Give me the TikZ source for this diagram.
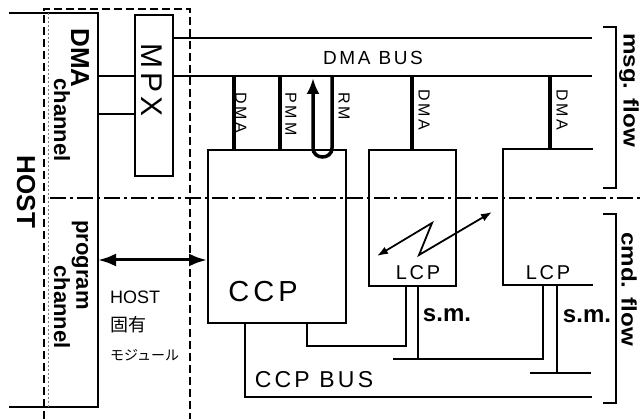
\documentclass[tikz,border=0pt]{standalone}
\usepackage{fontspec}
\setmainfont{Liberation Sans}
\newfontfamily\cjk{Noto Sans CJK JP}
\newfontfamily\hand[LetterSpace=14]{Liberation Sans}
\newfontfamily\handsm[LetterSpace=18]{Liberation Sans}
\usetikzlibrary{arrows.meta}
\begin{document}
\begin{tikzpicture}[x=1pt,y=-1pt,
  ln/.style={line width=2pt},
  conn/.style={line width=3.5pt},
  box/.style={draw,line width=2pt,inner sep=0pt,anchor=north west},
  print/.style={font=\bfseries\fontsize{23}{25}\selectfont,inner sep=0pt},
  handlbl/.style={font=\hand\fontsize{20}{22}\selectfont,inner sep=0pt},
  small/.style={font=\handsm\fontsize{16}{17}\selectfont,inner sep=0pt,rotate=-90},
  hostdash/.style={line width=2pt,dash pattern=on 8pt off 4pt},
  dashdot/.style={line width=1.6pt,dash pattern=on 16pt off 4pt on 3pt off 4pt},
  tipbig/.tip={Latex[length=18pt,width=13pt]},
  tipsmall/.tip={Latex[length=11pt,width=8pt]}
]
\useasboundingbox (0,0) rectangle (640,419);

% HOST dashed boundary
\coordinate (hbl) at (44,419);
\coordinate (htl) at (44,9);
\coordinate (htr) at (190,9);
\coordinate (hbr) at (190,419);
\draw[hostdash] (hbl) -- (htl) -- (htr) -- (hbr);

% channel box (open at left)
\coordinate (chtl) at (9,13);
\coordinate (chtr) at (98,13);
\coordinate (chbr) at (98,407);
\coordinate (chbl) at (9,407);
\draw[ln] (chtl) -- (chtr) -- (chbr) -- (chbl);
\draw[line width=0.7pt,gray,dash pattern=on 2pt off 2pt] (48,13) -- (48,407);

% MPX
\node[box,minimum width=38pt,minimum height=161pt] (mpx) at (134,14) {};
\node[handlbl,rotate=-90,font=\hand\fontsize{30}{32}\selectfont] (mpxl) at (152,80) {MPX};

% CCP and LCPs
\node[box,minimum width=138pt,minimum height=173pt] (ccp) at (207,149) {};
\node[box,minimum width=87pt,minimum height=136pt] (lcpa) at (368,149) {};
\coordinate (lcpbtr) at (593,149);
\coordinate (lcpbtl) at (503,149);
\coordinate (lcpbbl) at (503,285);
\coordinate (lcpbbr) at (593,285);
\draw[ln] (lcpbtr) -- (lcpbtl) -- (lcpbbl) -- (lcpbbr);

% DMA bus lines
\coordinate (busa) at (592,38);
\coordinate (busb) at (592,76);
\draw[ln] (mpx.east |- busa) -- (busa);
\draw[ln] (mpx.east |- busb) -- (busb);
\draw[ln] (chtr |- busb) -- (mpx.west |- busb);
\draw[ln] (chtr |- 0,114) -- (mpx.west |- 0,114);

% connectors bus -> units
\coordinate (ca) at (234,76);
\coordinate (cb) at (280,76);
\coordinate (cc) at (412,76);
\coordinate (cd) at (550,76);
\draw[conn] (ca) -- (ca |- ccp.north);
\draw[conn] (cb) -- (cb |- ccp.north);
\draw[conn] (cc) -- (cc |- lcpa.north);
\draw[conn] (cd) -- (cd |- lcpbtl);
\coordinate (rm) at (332,76);
\coordinate (rmup) at (313,78);
\draw[conn,-{Latex[length=16pt,width=13pt]}] (rm) -- (332,148) .. controls (332,160) and (313,160) .. (313,148) -- (rmup);

% labels on connectors
\node[small] (la) at (241,113) {DMA};
\node[small] (lb) at (291,114) {PMM};
\node[small] (lc) at (344,106) {RM};
\node[small] (ld) at (424,110) {DMA};
\node[small] (le) at (562,110) {DMA};

% dash-dot separator
\coordinate (dda) at (50,198);
\coordinate (ddb) at (640,198);
\draw[dashdot] (dda) -- (ddb);

% program channel <-> CCP
\draw[line width=3pt,tipbig-tipbig] (chbr |- 0,260) -- (ccp.west |- 0,260);

% CCP bottom connections
\coordinate (busc) at (592,397);
\draw[ln] (245,322) -- (245,397) -- (busc);
\draw[ln] (307,322) -- (307,346) -- (406,346) -- (406,285);
\draw[ln] (418,285) -- (418,359);
\draw[ln] (393,359) -- (543,359) -- (543,285);
\draw[ln] (557,285) -- (557,373);
\draw[ln] (530,373) -- (591,373);

% zigzag arrow
\draw[line width=1.8pt,tipsmall-tipsmall] (377,256) -- (432,223) -- (419,255) -- (492,212);

% brackets
\draw[ln] (603,27) -- (616,27) -- (616,188) -- (603,188);
\draw[ln] (603,214) -- (616,214) -- (616,403) -- (603,403);

% printed labels
\node[print,rotate=-90,font=\bfseries\fontsize{26}{28}\selectfont] (host) at (26,192) {HOST};
\node[print,rotate=-90,font=\bfseries\fontsize{26}{28}\selectfont] (dmal) at (80,58) {DMA};
\node[print,rotate=-90,font=\bfseries\fontsize{22}{24}\selectfont] (chl1) at (62,120) {channel};
\node[print,rotate=-90,font=\bfseries\fontsize{22}{24}\selectfont] (progl) at (80,265) {program};
\node[print,rotate=-90,font=\bfseries\fontsize{22}{24}\selectfont] (chl2) at (62,307) {channel};
\node[print,rotate=-90,font=\bfseries\fontsize{21}{23}\selectfont] (msg) at (629,90) {\scalebox{1.15}[1]{msg. flow}};
\node[print,rotate=-90,font=\bfseries\fontsize{21}{23}\selectfont] (cmd) at (629,289) {\scalebox{1.15}[1]{cmd. flow}};
\node[print,font=\bfseries\fontsize{24}{26}\selectfont] (sma) at (447,315) {s.m.};
\node[print,font=\bfseries\fontsize{24}{26}\selectfont] (smb) at (587,316) {s.m.};

% hand labels
\node[handlbl,font=\hand\fontsize{19}{21}\selectfont] (dmabus) at (373,58) {DMA BUS};
\node[handlbl,font=\hand\fontsize{29}{31}\selectfont] (ccpl) at (263,292) {CCP};
\node[handlbl] (lcpal) at (418,273) {LCP};
\node[handlbl] (lcpbl) at (548,273) {LCP};
\node[handlbl,font=\hand\fontsize{23}{25}\selectfont] (ccpbus) at (314,380) {CCP BUS};
\node[anchor=west,inner sep=0pt,font=\fontsize{18}{20}\selectfont] (hm1) at (110,297) {HOST};
\node[anchor=west,inner sep=0pt,font=\cjk\fontsize{18}{20}\selectfont] (hm2) at (110,325) {固有};
\node[anchor=west,inner sep=0pt,font=\cjk\fontsize{14}{16}\selectfont] (hm3) at (110,355) {モジュール};
\end{tikzpicture}
\end{document}
